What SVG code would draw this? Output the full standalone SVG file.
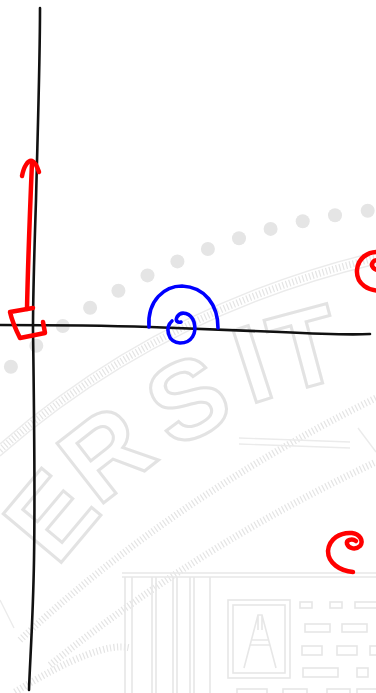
<svg xmlns="http://www.w3.org/2000/svg" width="376" height="693" viewBox="0 0 376 693">
<style>
.dot{fill:#e5e5e5}
.wm{font-family:"Liberation Sans",Arial,sans-serif;font-size:110px;font-weight:bold;fill:none;stroke:#e3e3e3;stroke-width:3;text-anchor:middle}
.hatch{fill:none;stroke:#e4e4e4;stroke-width:7;stroke-dasharray:1.2 2.3}
.edge{fill:none;stroke:#ebebeb;stroke-width:1.4}
.bld{fill:none;stroke:#e7e7e7;stroke-width:1.6}
.ink{fill:none;stroke-linecap:round;stroke-linejoin:round}
.black{stroke:#111;stroke-width:2.6}
.red{stroke:#ff0000;stroke-width:4.5}
.blue{stroke:#0000ff;stroke-width:3.6}
</style>
<rect width="376" height="693" fill="#ffffff"/>
<g id="watermark">
  <g id="dots">
    <circle class="dot" cx="367.7" cy="210.8" r="7"/>
    <circle class="dot" cx="335.0" cy="215.2" r="7"/>
    <circle class="dot" cx="302.7" cy="221.2" r="7"/>
    <circle class="dot" cx="270.6" cy="228.9" r="7"/>
    <circle class="dot" cx="239.0" cy="238.2" r="7"/>
    <circle class="dot" cx="207.9" cy="249.0" r="7"/>
    <circle class="dot" cx="177.4" cy="261.4" r="7"/>
    <circle class="dot" cx="147.5" cy="275.4" r="7"/>
    <circle class="dot" cx="118.4" cy="290.8" r="7"/>
    <circle class="dot" cx="90.1" cy="307.7" r="7"/>
    <circle class="dot" cx="62.8" cy="326.0" r="7"/>
    <circle class="dot" cx="36.3" cy="345.7" r="7"/>
    <circle class="dot" cx="10.9" cy="366.7" r="7"/>
  </g>
  <g id="bands">
    <path class="hatch" d="M0,450 Q160,310 376,258"/>
    <path class="edge" d="M0,444 Q160,304 376,252"/>
    <path class="edge" d="M0,456 Q160,316 376,264"/>
    <path class="hatch" d="M20,640 Q170,500 376,398"/>
    <path class="hatch" d="M50,665 Q200,545 376,462"/>
    <path class="hatch" d="M15,692 Q100,640 130,648"/>
    <path class="edge" d="M239,438 L350,442"/>
    <path class="edge" d="M239,444 L350,448"/>
    <path class="edge" d="M358,428 L376,452"/>
    <path class="edge" d="M0,600 L14,628"/>
  </g>
  <g id="letters">
    <text class="wm" transform="translate(80,540) rotate(-50)">E</text>
    <text class="wm" transform="translate(129,483) rotate(-38)">R</text>
    <text class="wm" transform="translate(205,433) rotate(-27)">S</text>
    <text class="wm" transform="translate(264,400) rotate(-18)">I</text>
    <text class="wm" transform="translate(315,385) rotate(-15)">T</text>
  </g>
  <g id="building">
    <path class="bld" d="M122,573 L376,573 M122,577 L376,577"/>
    <path class="bld" d="M125,577 V693 M132,577 V693 M152,577 V693 M156,577 V693 M173,577 V693 M177,577 V693 M190,577 V693 M194,577 V693 M210,577 V693"/>
    <rect class="bld" x="228" y="600" width="62" height="78"/>
    <rect class="bld" x="233" y="605" width="52" height="68"/>
    <path class="bld" d="M244,668 L258,615 L262,615 L276,668 M250,645 L270,645 M252,640 L268,640 M258,615 L258,630 M262,615 L262,630"/>
    <rect class="bld" x="300" y="602" width="12" height="6"/>
    <rect class="bld" x="330" y="602" width="12" height="6"/>
    <rect class="bld" x="355" y="602" width="24" height="6"/>
    <rect class="bld" x="305" y="624" width="25" height="8"/>
    <rect class="bld" x="342" y="624" width="25" height="8"/>
    <rect class="bld" x="302" y="646" width="20" height="9"/>
    <rect class="bld" x="337" y="646" width="20" height="9"/>
    <rect class="bld" x="370" y="646" width="10" height="9"/>
    <rect class="bld" x="303" y="668" width="35" height="9"/>
    <rect class="bld" x="357" y="668" width="11" height="9"/>
    <rect class="bld" x="237" y="689" width="30" height="8"/>
    <rect class="bld" x="283" y="689" width="24" height="8"/>
    <rect class="bld" x="327" y="689" width="23" height="8"/>
    <rect class="bld" x="357" y="689" width="22" height="8"/>
  </g>
</g>
<g id="axes">
  <path class="ink black" d="M40,8 C40,60 38,120 36,200 C34,260 33,300 33,330 C34,400 35,500 34,560 C33,620 30,660 29,690"/>
  <path class="ink black" d="M0,325 C60,325 120,326 150,327 C200,329 250,331 280,332 C320,334 350,335 370,334"/>
</g>
<g id="red-arrow">
  <path class="ink red" d="M27,309 C28,260 30,210 32,162"/>
  <path class="ink red" d="M22,176 C24,166 28,160 32,161 C35,162 37,166 39,172"/>
  <path class="ink red" d="M33,308 L10,312 C12,321 16,330 20,338 L45,333 L43,322"/>
</g>
<g id="blue-angle">
  <path class="ink blue" d="M149,327 C147,300 165,286 182,286 C205,287 218,305 218,328"/>
  <path class="ink blue" d="M172,321 C165,327 167,342 180,343 C192,343 197,333 194,322 C191,313 181,310 177,317 C175,321 178,323 181,322"/>
</g>
<g id="red-spiral-right">
  <path class="ink red" d="M385,290 C368,293 356,283 357,270 C358,258 368,251 380,252 C392,254 392,268 382,270 C374,271 370,266 373,262 C375,259 380,260 381,262"/>
</g>
<g id="red-spiral-bottom">
  <path class="ink red" d="M353,572 C340,571 328,563 328,551 C329,539 340,532 352,533 C360,534 364,541 360,546 C356,550 349,549 347,544 C346,540 352,538 356,541"/>
</g>
</svg>
